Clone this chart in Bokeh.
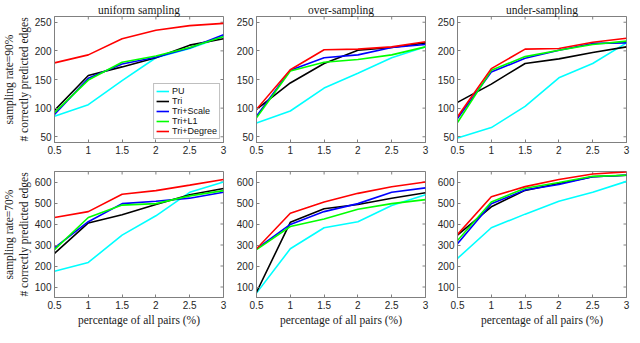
import math
from bokeh.plotting import figure
from bokeh.layouts import gridplot
from bokeh.models import FixedTicker, Legend, LegendItem, Range1d
from bokeh.embed import file_html
from bokeh.resources import INLINE

# ---------------- data ----------------
x_pct = [0.5, 1, 1.5, 2, 2.5, 3]
x_tick_labels = ["0.5", "1", "1.5", "2", "2.5", "3"]
series_names = ["PU", "Tri", "Tri+Scale", "Tri+L1", "Tri+Degree"]
series_colors = ["#00FFFF", "#000000", "#0000FF", "#00FF00", "#FF0000"]
col_titles = ["uniform sampling", "over-sampling", "under-sampling"]
row_labels = ["sampling rate=90%", "sampling rate=70%"]
y_label_common = "# correctly predicted edges"
x_label = "percentage of all pairs (%)"

# sampling rate = 90%
uniform90_pu = [86, 106, 148, 188, 204, 225]
uniform90_tri = [96, 157, 172, 188, 210, 221]
uniform90_scale = [89, 152, 177, 189, 205, 228]
uniform90_l1 = [92, 149, 180, 191, 206, 225]
uniform90_degree = [179, 193, 221, 236, 244, 248]

over90_pu = [74, 95, 135, 161, 188, 207]
over90_tri = [98, 144, 178, 201, 206, 214]
over90_scale = [86, 166, 188, 193, 206, 211]
over90_l1 = [83, 165, 180, 185, 193, 207]
over90_degree = [98, 167, 202, 203, 207, 216]

under90_pu = [48, 66, 103, 153, 178, 214]
under90_tri = [110, 142, 178, 186, 197, 207]
under90_scale = [82, 163, 187, 201, 213, 214]
under90_l1 = [75, 166, 190, 201, 211, 217]
under90_degree = [85, 169, 203, 204, 215, 222]

# sampling rate = 70%
uniform70_pu = [175, 217, 347, 439, 551, 600]
uniform70_tri = [260, 405, 444, 493, 539, 569]
uniform70_scale = [286, 411, 497, 508, 523, 551]
uniform70_l1 = [278, 431, 490, 497, 534, 559]
uniform70_degree = [431, 459, 542, 559, 585, 612]

over70_pu = [71, 282, 382, 411, 488, 539]
over70_tri = [75, 408, 473, 493, 523, 549]
over70_scale = [282, 398, 459, 497, 551, 572]
over70_l1 = [278, 388, 424, 470, 497, 516]
over70_degree = [282, 451, 505, 546, 577, 600]

under70_pu = [236, 382, 447, 508, 551, 603]
under70_tri = [347, 482, 560, 593, 625, 632]
under70_scale = [306, 496, 562, 588, 625, 632]
under70_l1 = [321, 505, 570, 598, 627, 632]
under70_degree = [350, 530, 578, 612, 638, 648]

row_data = [
    [
        [uniform90_pu, uniform90_tri, uniform90_scale, uniform90_l1, uniform90_degree],
        [over90_pu, over90_tri, over90_scale, over90_l1, over90_degree],
        [under90_pu, under90_tri, under90_scale, under90_l1, under90_degree],
    ],
    [
        [uniform70_pu, uniform70_tri, uniform70_scale, uniform70_l1, uniform70_degree],
        [over70_pu, over70_tri, over70_scale, over70_l1, over70_degree],
        [under70_pu, under70_tri, under70_scale, under70_l1, under70_degree],
    ],
]
row_yranges = [(40, 260), (50, 650)]
row_yticks = [[50, 100, 150, 200, 250], [100, 200, 300, 400, 500, 600]]

# ---------------- layout ----------------
FRAME_W = 169
FRAME_H = 126
col_left = [44, 29, 28]
col_right = [4, 4, 8]
row_top = [16, 13]
row_bottom = [16, 30]

SANS = "Liberation Sans"
SERIF = "Liberation Serif"
BOX = "#808080"
TICKTXT = "#262626"


def style_axis(ax, ticks):
    ax.ticker = FixedTicker(ticks=ticks)
    ax.major_tick_in = 3
    ax.major_tick_out = 0
    ax.minor_tick_in = 0
    ax.minor_tick_out = 0
    ax.axis_line_color = BOX
    ax.major_tick_line_color = BOX
    ax.major_label_text_font = SANS
    ax.major_label_text_color = TICKTXT
    ax.major_label_text_font_size = "10px"
    ax.major_label_standoff = 3
    ax.axis_label_text_font = SERIF
    ax.axis_label_text_font_style = "normal"
    ax.axis_label_text_color = "#1a1a1a"
    ax.axis_label_text_font_size = "11.5px"
    ax.axis_label_standoff = 2


figs = []
for r in range(2):
    row = []
    for c in range(3):
        y0, y1 = row_yranges[r]
        p = figure(
            frame_width=FRAME_W, frame_height=FRAME_H,
            min_border_left=col_left[c], min_border_right=col_right[c],
            min_border_top=row_top[r], min_border_bottom=row_bottom[r],
            x_range=Range1d(x_pct[0], x_pct[-1]), y_range=Range1d(y0, y1),
            output_backend="svg", toolbar_location=None,
            title=col_titles[c] if r == 0 else None,
        )
        p.grid.visible = False
        p.outline_line_color = BOX
        p.outline_line_width = 1
        p.background_fill_color = "white"
        p.border_fill_color = "white"
        if r == 0:
            p.title.text_font = SERIF
            p.title.text_font_style = "normal"
            p.title.text_font_size = "11.5px"
            p.title.text_color = "#1a1a1a"
            p.title.align = "center"
            p.title.standoff = 2
            p.title.offset = 0

        style_axis(p.xaxis[0], x_pct)
        p.xaxis[0].major_label_overrides = {k: v for k, v in zip(x_pct, x_tick_labels)}
        style_axis(p.yaxis[0], row_yticks[r])
        if c == 0:
            p.yaxis[0].axis_label = row_labels[r] + "\n" + y_label_common
        if r == 1:
            p.xaxis[0].axis_label = x_label

        # inward tick marks on the top and right edges of the box (clipped to frame)
        p.scatter(x_pct, [y1] * len(x_pct), marker="dash", angle=math.pi / 2,
                  size=6, line_color=BOX, line_width=1)
        p.scatter([x_pct[-1]] * len(row_yticks[r]), row_yticks[r], marker="dash",
                  size=6, line_color=BOX, line_width=1)

        renderers = []
        for name, color, ys in zip(series_names, series_colors, row_data[r][c]):
            gl = p.line(x_pct, ys, line_color=color, line_width=1.6)
            renderers.append((name, gl))

        if r == 0 and c == 0:
            legend = Legend(
                items=[LegendItem(label=n, renderers=[g]) for n, g in renderers],
                location="bottom_right",
                label_text_font=SANS, label_text_font_size="9px",
                label_text_color="#111111",
                glyph_width=13, glyph_height=8, label_height=8,
                label_standoff=3, spacing=0, padding=2, margin=3,
                border_line_color=BOX, background_fill_alpha=1.0,
            )
            p.add_layout(legend, "center")
        row.append(p)
    figs.append(row)

grid = gridplot(figs, toolbar_location=None, merge_tools=False)

with open("out.html", "w") as f:
    f.write(file_html(grid, INLINE))
